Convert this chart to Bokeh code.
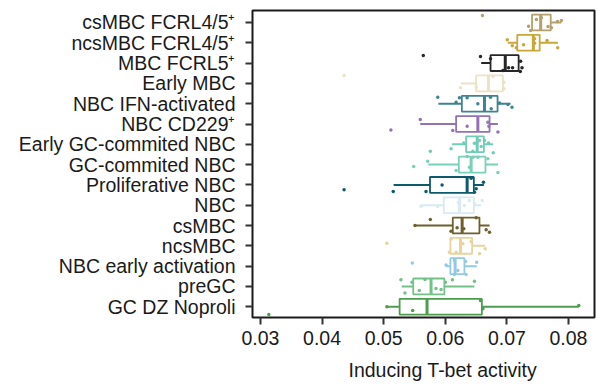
from bokeh.plotting import figure
from bokeh.models import Range1d, FixedTicker, ColumnDataSource, Title
from bokeh.embed import file_html
from bokeh.resources import INLINE

# ---- data (rows listed top to bottom) ----
categories = [
    "csMBC FCRL4/5⁺", "ncsMBC FCRL4/5⁺", "MBC FCRL5⁺", "Early MBC",
    "NBC IFN-activated", "NBC CD229⁺", "Early GC-commited NBC", "GC-commited NBC",
    "Proliferative NBC", "NBC", "csMBC", "ncsMBC", "NBC early activation",
    "preGC", "GC DZ Noproli",
]
colors = [
    "#b3a06c", "#c9a73a", "#262626", "#ece2c4", "#3f8290", "#9471b5",
    "#6fcdb7", "#78d0b9", "#0d5a6a", "#d8ebf1", "#6e5f2c", "#e8d39e",
    "#93c9e3", "#72c287", "#4e9d4e",
]
lower  = [0.0740, 0.07015, 0.06583, 0.06257, 0.05888, 0.05594, 0.06111, 0.05725,
          0.05161, 0.05606, 0.05508, 0.06083, 0.06013, 0.05291, 0.05052]
q1     = [0.07409, 0.07169, 0.06735, 0.06502, 0.06269, 0.06176, 0.06339, 0.06220,
          0.05752, 0.05976, 0.06122, 0.06083, 0.06083, 0.05480, 0.05259]
median = [0.07549, 0.07430, 0.06974, 0.06702, 0.06637, 0.06529, 0.06518, 0.06420,
          0.06355, 0.06230, 0.06274, 0.06246, 0.06160, 0.05769, 0.05704]
q3     = [0.07712, 0.07533, 0.07191, 0.06936, 0.06849, 0.06719, 0.06627, 0.06653,
          0.06464, 0.06464, 0.06555, 0.06436, 0.06311, 0.05985, 0.06594]
upper  = [0.07886, 0.07829, 0.07200, 0.06950, 0.07060, 0.06855, 0.06774, 0.06855,
          0.06627, 0.06583, 0.06719, 0.06648, 0.06513, 0.06474, 0.08168]

# individual points per row: values and vertical jitter (row units)
pt_vals = [
    [0.07479, 0.07353, 0.07386, 0.07669, 0.07723, 0.07821, 0.07886, 0.0756, 0.06604],
    [0.07007, 0.07088, 0.07153, 0.07272, 0.07451, 0.07653, 0.07826, 0.0745],
    [0.06572, 0.06735, 0.06937, 0.07028, 0.07093, 0.07223, 0.07246, 0.07218, 0.05643],
    [0.06246, 0.06502, 0.06774, 0.06953, 0.06953, 0.04357],
    [0.05878, 0.06230, 0.06355, 0.06176, 0.06529, 0.06735, 0.06746, 0.06881, 0.07018, 0.07083],
    [0.05594, 0.05117, 0.06122, 0.06355, 0.06692, 0.06708, 0.06855],
    [0.05757, 0.06094, 0.06301, 0.06474, 0.06555, 0.06637, 0.06702, 0.06583, 0.06779, 0.06448],
    [0.05715, 0.05487, 0.06355, 0.06448, 0.06529, 0.06692, 0.06392, 0.06176, 0.06855],
    [0.05155, 0.05687, 0.05948, 0.06420, 0.06502, 0.06474, 0.06620, 0.04357],
    [0.05606, 0.05878, 0.06213, 0.06311, 0.06392, 0.06474, 0.06599],
    [0.05508, 0.05757, 0.06192, 0.06094, 0.06301, 0.06502, 0.06664, 0.06718],
    [0.06067, 0.06176, 0.06285, 0.06420, 0.06555, 0.06648, 0.06094, 0.05052],
    [0.06013, 0.06148, 0.06204, 0.06148, 0.06327, 0.06511, 0.06339, 0.05464],
    [0.05280, 0.05459, 0.05671, 0.05578, 0.05345, 0.05850, 0.05932, 0.06116, 0.06474, 0.06002],
    [0.05052, 0.05471, 0.06572, 0.06611, 0.08168, 0.03135],
]
pt_jit = [
    [0.15, -0.18, -0.39, -0.20, -0.26, 0.05, 0.10, 0.23, 0.34],
    [0.15, -0.15, -0.25, -0.10, -0.02, 0.11, -0.25, 0.20],
    [0.33, 0.21, -0.36, -0.23, -0.23, 0.09, -0.23, -0.41, 0.37],
    [-0.22, -0.19, 0.34, 0.06, -0.27, 0.39],
    [0.32, 0.29, 0.29, 0.07, 0.0, 0.32, -0.25, 0.04, -0.04, -0.17],
    [0.22, -0.29, -0.32, -0.11, 0.09, -0.11, -0.40],
    [-0.34, -0.22, 0.07, 0.05, 0.19, 0.19, 0.07, -0.11, -0.42, -0.34],
    [0.17, -0.09, 0.40, 0.36, 0.36, 0.29, -0.13, -0.29, -0.39],
    [-0.33, -0.33, 0.0, 0.33, -0.19, -0.36, 0.13, -0.24],
    [-0.05, -0.06, 0.12, -0.01, 0.23, 0.07, 0.23],
    [0.0, 0.30, -0.11, -0.28, -0.16, 0.38, -0.21, -0.33],
    [-0.32, -0.32, 0.10, 0.21, -0.39, -0.15, 0.34, 0.13],
    [0.06, 0.28, -0.22, -0.41, 0.23, 0.19, -0.41, 0.16],
    [0.33, 0.21, 0.34, -0.20, -0.32, -0.10, -0.15, 0.33, 0.26, 0.21],
    [0.0, -0.19, 0.31, -0.10, 0.06, -0.38],
]
x_ticks = [0.03, 0.04, 0.05, 0.06, 0.07, 0.08]
x_title = "Inducing T-bet activity"

# ---- build ----
n = len(categories)
ypos = [n - i for i in range(n)]
box_h = 0.78

FONT = "Liberation Sans"
FS = "19.5px"

p = figure(width=600, height=392, output_backend="svg", toolbar_location=None,
           x_range=Range1d(0.0287, 0.08423), y_range=Range1d(0.47, 15.59),
           min_border_left=252, min_border_right=6, min_border_top=10,
           min_border_bottom=75)
p.xgrid.visible = False
p.ygrid.visible = False
p.outline_line_color = "#1a1a1a"
p.outline_line_width = 2
p.background_fill_color = "white"
p.border_fill_color = "white"

src = ColumnDataSource(dict(y=ypos, lo=lower, q1=q1, med=median, q3=q3, hi=upper,
                            c=colors,
                            ylo=[y - box_h / 2 for y in ypos],
                            yhi=[y + box_h / 2 for y in ypos]))

p.segment(x0="lo", y0="y", x1="q1", y1="y", line_color="c", line_width=2, source=src)
p.segment(x0="q3", y0="y", x1="hi", y1="y", line_color="c", line_width=2, source=src)
p.hbar(y="y", left="q1", right="q3", height=box_h, fill_color="white",
       line_color="c", line_width=1.8, source=src)
p.segment(x0="med", y0="ylo", x1="med", y1="yhi", line_color="c", line_width=3, source=src)

px, py, pc = [], [], []
for i in range(n):
    for v, j in zip(pt_vals[i], pt_jit[i]):
        px.append(v)
        py.append(ypos[i] + j)
        pc.append(colors[i])
p.scatter(x=px, y=py, size=3.5, color=pc, line_width=0)

# axes
p.xaxis.ticker = FixedTicker(ticks=x_ticks)
p.xaxis.major_label_overrides = {t: f"{t:.2f}" for t in x_ticks}
p.yaxis.ticker = FixedTicker(ticks=ypos)
p.yaxis.major_label_overrides = {y: c for y, c in zip(ypos, categories)}
for ax in (p.xaxis[0], p.yaxis[0]):
    ax.axis_line_color = None
    ax.major_tick_line_color = "#333333"
    ax.major_tick_line_width = 2
    ax.major_tick_out = 7
    ax.major_tick_in = 0
    ax.minor_tick_line_color = None
    ax.major_label_text_font = FONT
    ax.major_label_text_font_size = FS
    ax.major_label_text_color = "#1a1a1a"
p.xaxis.major_label_standoff = 6
p.yaxis.major_label_standoff = 10

# x-axis title (offset to the right as in the original)
p.add_layout(Title(text=x_title, align="left", offset=96, standoff=19,
                   text_font=FONT, text_font_size=FS, text_font_style="normal",
                   text_color="#1a1a1a"), "below")

open("out.html", "w").write(file_html(p, INLINE))
